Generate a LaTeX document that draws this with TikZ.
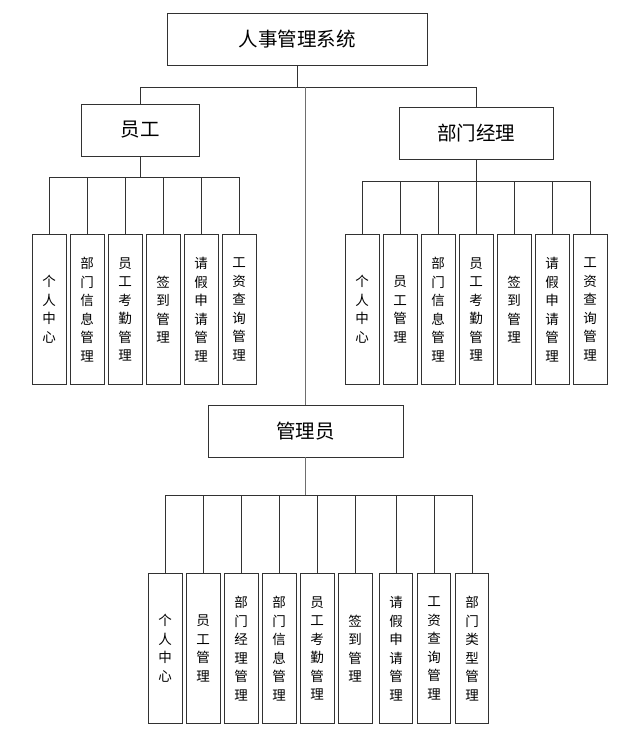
\documentclass[tikz,border=0pt]{standalone}
\usepackage{fontspec}
\setmainfont{Noto Sans CJK SC}
\usetikzlibrary{positioning}
\definecolor{linegray}{RGB}{50,50,50}
\definecolor{trunkgray}{RGB}{110,110,110}

\tikzset{
  rolebox/.style={draw=linegray, line width=0.8pt, minimum height=52pt, inner sep=0pt, font=\fontsize{19.5}{22}\selectfont},
  leafbox/.style={draw=linegray, line width=0.8pt, minimum width=33.6pt, minimum height=150pt, inner sep=0pt, align=center, font=\fontsize{13.5}{18.5}\selectfont},
  link/.style={draw=linegray, line width=0.8pt}
}

\begin{document}
\begin{tikzpicture}[x=1pt, y=-1pt]
  \useasboundingbox (0,0) rectangle (634,736);

  % roles
  \node[rolebox, minimum width=260pt] (top) at (297,39) {人事管理系统};
  \node[rolebox, minimum width=118pt] (emp) at (140,130) {员工};
  \node[rolebox, minimum width=154pt] (mgr) at (476,133) {部门经理};
  \node[rolebox, minimum width=195pt] (adm) at (305.5,431) {管理员};

  % employee
  \node[leafbox, anchor=north west] (e1) at (32,234) {个\\人\\中\\心};
  \node[leafbox, right=3.6pt of e1] (e2) {部\\门\\信\\息\\管\\理};
  \node[leafbox, right=3.6pt of e2] (e3) {员\\工\\考\\勤\\管\\理};
  \node[leafbox, right=3.6pt of e3] (e4) {签\\到\\管\\理};
  \node[leafbox, right=3.6pt of e4] (e5) {请\\假\\申\\请\\管\\理};
  \node[leafbox, right=3.6pt of e5] (e6) {工\\资\\查\\询\\管\\理};

  % manager
  \node[leafbox, anchor=north west] (m1) at (345,234) {个\\人\\中\\心};
  \node[leafbox, right=3.6pt of m1] (m2) {员\\工\\管\\理};
  \node[leafbox, right=3.6pt of m2] (m3) {部\\门\\信\\息\\管\\理};
  \node[leafbox, right=3.6pt of m3] (m4) {员\\工\\考\\勤\\管\\理};
  \node[leafbox, right=3.6pt of m4] (m5) {签\\到\\管\\理};
  \node[leafbox, right=3.6pt of m5] (m6) {请\\假\\申\\请\\管\\理};
  \node[leafbox, right=3.6pt of m6] (m7) {工\\资\\查\\询\\管\\理};

  % admin
  \node[leafbox, anchor=north west] (a1) at (148,573) {个\\人\\中\\心};
  \node[leafbox, right=3.6pt of a1] (a2) {员\\工\\管\\理};
  \node[leafbox, right=3.6pt of a2] (a3) {部\\门\\经\\理\\管\\理};
  \node[leafbox, right=3.6pt of a3] (a4) {部\\门\\信\\息\\管\\理};
  \node[leafbox, right=3.6pt of a4] (a5) {员\\工\\考\\勤\\管\\理};
  \node[leafbox, right=3.6pt of a5] (a6) {签\\到\\管\\理};
  \node[leafbox, right=6.4pt of a6] (a7) {请\\假\\申\\请\\管\\理};
  \node[leafbox, right=3.6pt of a7] (a8) {工\\资\\查\\询\\管\\理};
  \node[leafbox, right=3.6pt of a8] (a9) {部\\门\\类\\型\\管\\理};

  % connectors
  \draw[link] (top.south) -- ++(0,22) coordinate (topbus);
  \draw[link] (topbus) -| (emp.north);
  \draw[link] (topbus) -| (mgr.north);
  \draw[link, draw=trunkgray] (adm.north) -- (adm.north |- topbus);

  \draw[link] (emp.south) -- ++(0,21) coordinate (empbus);
  \foreach \n in {e1,e2,e3,e4,e5,e6}
    \draw[link] (empbus) -| (\n.north);

  \draw[link] (mgr.south) -- ++(0,22) coordinate (mgrbus);
  \foreach \n in {m1,m2,m3,m4,m5,m6,m7}
    \draw[link] (mgrbus) -| (\n.north);

  \draw[link, draw=trunkgray] (adm.south) -- ++(0,38) coordinate (admbus);
  \foreach \n in {a1,a2,a3,a4,a5,a6,a7,a8,a9}
    \draw[link] (admbus) -| (\n.north);
\end{tikzpicture}
\end{document}
